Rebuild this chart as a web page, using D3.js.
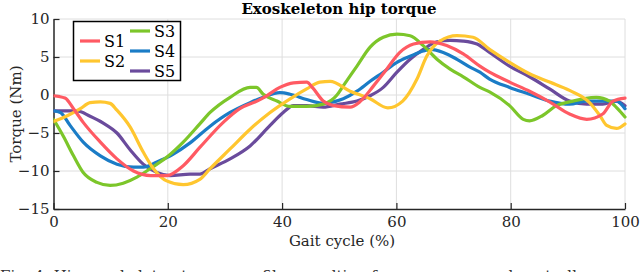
<!DOCTYPE html>
<html>
<head>
<meta charset="utf-8">
<script src="https://cdn.jsdelivr.net/npm/d3@7"></script>
<style>
  body { margin: 0; background: #fff; }
  svg { display: block; }
</style>
</head>
<body>
<div id="chart"></div>
<script>
// gait cycle (%) / torque (Nm)
var s1 = [[0,-0.1],[2,-0.4],[3.5,-1.8],[5.2,-3.6],[8.2,-6.2],[11.1,-8.4],[14,-10],[17,-10.6],[19.8,-10.6],[22.7,-9.3],[25.6,-6.9],[29.7,-3.6],[32.6,-1.8],[35.6,-0.8],[37.3,-0.1],[39.6,1.0],[42,1.6],[44.3,1.7],[45.4,0.9],[47.2,-0.8],[49,-1.4],[51.9,-1.6],[53.6,-0.9],[56,1.2],[58.3,3.4],[60.6,5.6],[63,6.7],[65.9,7.0],[68.8,6.5],[71.7,5.4],[74.6,3.8],[76.3,3.0],[79.8,1.7],[83.3,0.5],[86.8,-0.9],[90.3,-2.5],[93.3,-3.2],[96.1,-2.5],[97.9,-0.8],[100,-0.4]];
var s2 = [[0,-3.5],[2.5,-2.7],[4.7,-1.8],[6.4,-1.0],[8.2,-0.9],[9.9,-1.1],[11.1,-2.0],[13.4,-4.2],[15.7,-7.5],[17.5,-9.7],[19.8,-11.3],[22.7,-11.8],[25.6,-11.1],[27.4,-9.7],[30.9,-7.1],[34.4,-4.5],[37.9,-2.3],[41.4,-0.5],[44.3,0.8],[46.6,1.7],[48.4,1.8],[51.9,0.5],[55.4,-0.5],[58.5,-1.7],[61.1,-0.8],[63.6,2.1],[65.3,5.1],[67.6,7.1],[70.6,7.8],[73.4,7.6],[76.3,6.0],[79.8,4.3],[83.3,2.8],[86.8,1.7],[90.3,0.6],[93.8,-1.0],[95.6,-2.7],[96.8,-4.0],[98.5,-4.4],[100,-3.8]];
var s3 = [[0,-3.2],[1.7,-5.4],[3.5,-8.0],[5.2,-10.2],[7.6,-11.5],[9.9,-11.9],[12.2,-11.6],[14.6,-10.8],[16.9,-9.7],[19.8,-8.2],[22.7,-6.2],[25.6,-3.8],[27.4,-2.3],[30.9,-0.3],[34.4,1.0],[35.5,1.0],[36.7,0.1],[39.1,-0.8],[41.4,-1.5],[44.3,-1.5],[47.2,-1.2],[49.6,0.0],[50.7,1.2],[53.1,3.8],[55.4,6.3],[57.7,7.6],[60.1,8.0],[62.4,7.8],[64.7,6.5],[67.1,4.7],[69.4,3.4],[71.7,2.4],[74.6,1.0],[76.3,0.4],[79.8,-1.4],[82.2,-3.2],[83.3,-3.4],[85.6,-2.7],[88,-1.4],[90.3,-0.9],[92.7,-0.5],[95,-0.3],[97.3,-0.8],[98.7,-1.8],[100,-2.9]];
var s4 = [[0,-2.1],[1.2,-2.3],[2.9,-4.0],[5.2,-6.2],[8.2,-8.0],[11.1,-9.1],[14,-9.5],[15.7,-9.5],[18.1,-8.8],[20.9,-7.8],[23.9,-6.3],[27.4,-4.1],[30.9,-2.3],[34.4,-1.0],[36.7,-0.3],[39.6,0.3],[41.4,0.1],[44.3,-0.6],[47.2,-1.1],[48.4,-1.0],[50.7,-0.5],[53.1,0.5],[55.4,1.8],[57.7,3.0],[60.1,4.3],[62.4,5.1],[64.7,5.8],[66,6.0],[68.2,5.6],[70.6,4.7],[72.8,3.7],[74.6,3.0],[76.3,2.1],[79.8,1.0],[83.3,0.1],[86.8,-0.8],[90.3,-1.2],[93.3,-0.8],[96.1,-0.8],[98.5,-0.8],[100,-1.8]];
var s5 = [[0,-2.1],[1.7,-2.1],[4.1,-2.1],[6.4,-2.8],[8.7,-3.7],[11.1,-5.0],[13.4,-7.2],[15.7,-9.1],[18.1,-10.2],[20.4,-10.6],[23.9,-10.4],[25.6,-10.4],[27.4,-9.7],[30.9,-8.4],[34.4,-6.7],[37.9,-4.0],[40.2,-2.3],[42,-1.4],[44.3,-1.4],[47.2,-1.6],[50.1,-1.2],[53.1,-0.8],[55.4,-0.1],[57.7,1.0],[60.1,3.0],[62.4,4.7],[64.7,6.0],[67.1,7.0],[69.4,7.2],[71.7,7.1],[74.1,6.7],[76.3,5.6],[79.8,3.8],[83.3,2.4],[86.8,0.8],[90.3,-0.8],[93.3,-1.2],[96.1,-1.2],[98.5,-0.8],[100,-1.4]];

var names = ["S1", "S2", "S3", "S4", "S5"];
var series = [s1, s2, s3, s4, s5];
var colors = ["#ff5a63", "#ffc62f", "#7cc62a", "#1b7cc6", "#6a4b9c"];
var xTicks = [0, 20, 40, 60, 80, 100];
var yTicks = [-15, -10, -5, 0, 5, 10];

var width = 640,
    height = 272;

var x = d3.scaleLinear().domain([0, 100]).range([53.5, 625]);
var y = d3.scaleLinear().domain([-15, 10]).range([209, 19]);

var svg = d3.select("#chart").append("svg")
    .attr("width", width)
    .attr("height", height);

// grid
svg.append("g").selectAll("line").data(xTicks.slice(1)).enter().append("line")
    .attr("x1", function(d){ return x(d); }).attr("x2", function(d){ return x(d); })
    .attr("y1", y(-15)).attr("y2", y(10))
    .attr("stroke", "#dedede").attr("stroke-width", 1);
svg.append("g").selectAll("line").data(yTicks.slice(1)).enter().append("line")
    .attr("x1", x(0)).attr("x2", x(100))
    .attr("y1", function(d){ return y(d); }).attr("y2", function(d){ return y(d); })
    .attr("stroke", "#dedede").attr("stroke-width", 1);

// axes (MATLAB style, ticks inward)
var xAxis = svg.append("g")
    .attr("transform", "translate(0," + y(-15) + ")")
    .call(d3.axisBottom(x).tickValues(xTicks).tickSizeInner(-6).tickSizeOuter(0).tickPadding(7));
var yAxis = svg.append("g")
    .attr("transform", "translate(" + x(0) + ",0)")
    .call(d3.axisLeft(y).tickValues(yTicks).tickSizeInner(-6).tickSizeOuter(0).tickPadding(4));

[xAxis, yAxis].forEach(function(ax){
  ax.select(".domain").attr("stroke", "#262626").attr("stroke-width", 1.5);
  ax.selectAll(".tick line").attr("stroke", "#262626").attr("stroke-width", 1.2);
  ax.selectAll(".tick text")
    .attr("fill", "#262626")
    .style("font-family", "DejaVu Serif")
    .style("font-size", "15px");
});

// curves
svg.append("clipPath").attr("id", "clip").append("rect")
    .attr("x", x(0)).attr("y", y(10) - 2)
    .attr("width", x(100) - x(0) + 3).attr("height", y(-15) - y(10) + 2);

var line = d3.line()
    .x(function(d){ return x(d[0]); })
    .y(function(d){ return y(d[1]); })
    .curve(d3.curveMonotoneX);

var order = [4, 3, 2, 1, 0];
svg.append("g").attr("clip-path", "url(#clip)")
  .selectAll("path").data(order).enter().append("path")
    .attr("d", function(i){ return line(series[i]); })
    .attr("fill", "none")
    .attr("stroke", function(i){ return colors[i]; })
    .attr("stroke-width", 3.2)
    .attr("stroke-linejoin", "round")
    .attr("stroke-linecap", "round");

// title and labels
svg.append("text")
    .attr("x", 339).attr("y", 14)
    .attr("text-anchor", "middle")
    .style("font-family", "DejaVu Serif")
    .style("font-weight", "bold")
    .style("font-size", "15px")
    .attr("fill", "#000")
    .text("Exoskeleton hip torque");

svg.append("text")
    .attr("x", 342).attr("y", 246)
    .attr("text-anchor", "middle")
    .style("font-family", "DejaVu Serif")
    .style("font-size", "15px")
    .attr("fill", "#262626")
    .text("Gait cycle (%)");

svg.append("text")
    .attr("transform", "translate(21," + y(-2.5) + ") rotate(-90)")
    .attr("text-anchor", "middle")
    .style("font-family", "DejaVu Serif")
    .style("font-size", "15px")
    .attr("fill", "#262626")
    .text("Torque (Nm)");

// caption, cut off by the bottom edge as in the source figure
svg.append("text")
    .attr("x", 0).attr("y", 281)
    .style("font-family", "DejaVu Serif")
    .style("font-size", "15px")
    .attr("fill", "#333")
    .text("Fig. 4: Hip exoskeleton torque profiles resulting from our proposed controller");

// legend
var legend = svg.append("g");
legend.append("rect")
    .attr("x", 73.5).attr("y", 21.5)
    .attr("width", 107).attr("height", 59)
    .attr("fill", "#fff")
    .attr("stroke", "#000")
    .attr("stroke-width", 1.5);

var legendPos = [[80, 41], [80, 61], [130, 31], [130, 51], [130, 71]];
names.forEach(function(n, i){
  var p = legendPos[i];
  legend.append("line")
    .attr("x1", p[0]).attr("x2", p[0] + 20)
    .attr("y1", p[1]).attr("y2", p[1])
    .attr("stroke", colors[i]).attr("stroke-width", 3.2);
  legend.append("text")
    .attr("x", p[0] + 24).attr("y", p[1] + 6)
    .style("font-family", "DejaVu Serif")
    .style("font-size", "16px")
    .attr("fill", "#000")
    .text(n);
});
</script>
</body>
</html>
